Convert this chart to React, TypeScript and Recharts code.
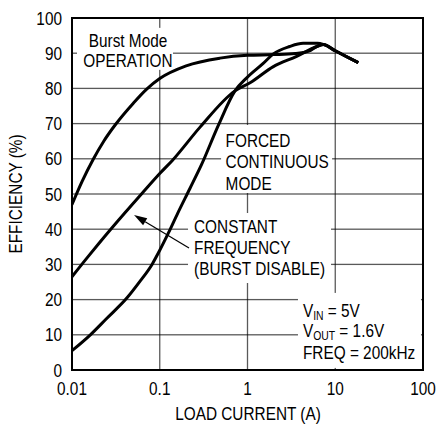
import React from 'react';
import { LineChart, Line, XAxis, YAxis, ReferenceArea } from 'recharts';

// no narrow font installed: Liberation Sans squeezed horizontally
const FONT = "'Liberation Sans', Arial, sans-serif";
const FS = 18.5;
const SX = 0.83;

const xTicks = [0.01, 0.1, 1, 10, 100];
const yTicks = [0, 10, 20, 30, 40, 50, 60, 70, 80, 90, 100];

// Burst Mode operation
const burstX = [0.01, 0.013, 0.0174, 0.023, 0.031, 0.05, 0.071, 0.1, 0.2, 0.486, 1, 2, 3.5, 5, 6.15, 7.3, 10, 13, 18.3];
const burstY = [47, 53.5, 59.8, 65, 69.6, 75.8, 79.8, 82.8, 86.4, 88.6, 89.4, 89.6, 89.9, 90.6, 91.9, 92.5, 90.7, 89.2, 87.3];

// constant frequency (burst disable)
const constX = [0.01, 0.015, 0.02, 0.0286, 0.063, 0.1, 0.14, 0.288, 0.72, 1.07, 1.97, 3.63, 6.15, 7.3, 10, 13, 18.3];
const constY = [26.5, 32, 35.8, 40.4, 50.2, 55.8, 59.6, 69, 79.3, 81.6, 86.2, 89.1, 91.9, 92.5, 90.7, 89.2, 87.3];

// forced continuous mode
const forcedX = [0.01, 0.0162, 0.0245, 0.0424, 0.06, 0.0817, 0.1, 0.126, 0.16, 0.22, 0.3, 0.465, 0.72, 0.98, 1.51, 1.97, 3.02, 4.3, 6.3, 7.3, 10, 13, 18.3];
const forcedY = [5.5, 10, 14.5, 20.5, 25.3, 30, 34, 39, 44.5, 51.5, 58.4, 69.5, 79.3, 83, 87.1, 89.8, 91.9, 92.8, 92.8, 92.5, 90.7, 89.2, 87.3];

const toPoints = (xs: number[], ys: number[]) => xs.map((x, i) => ({ x, y: ys[i] }));

const burst = toPoints(burstX, burstY);
const constant = toPoints(constX, constY);
const forced = toPoints(forcedX, forcedY);

const xMin = xTicks[0], xMax = xTicks[xTicks.length - 1];
const yMin = yTicks[0], yMax = yTicks[yTicks.length - 1];

const PL = 72, PR = 423, PT = 18, PB = 370;
const GW = 1.3;
const GRID_OPACITY = 0.65; // black at 65%: grey on white, stays black over curves

const NText = ({ x, y, anchor = 'start', rotate, children }: any) => (
  <text
    transform={`translate(${x},${y})${rotate ? ` rotate(${rotate})` : ''} scale(${SX},1)`}
    textAnchor={anchor}
    fontFamily={FONT}
    fontSize={FS}
    fill="#000"
  >
    {children}
  </text>
);

const XTick = ({ x, payload }: any) => <NText x={x} y={395} anchor="middle">{String(payload.value)}</NText>;
const YTick = ({ y, payload }: any) => <NText x={62} y={y + 6.6} anchor="end">{String(payload.value)}</NText>;

// grid: each area spans two neighbouring ticks, its label draws the line at the inner tick
const VGridCell = ({ viewBox }: any) => (
  <rect x={viewBox.x + viewBox.width - GW / 2} y={viewBox.y} width={GW} height={viewBox.height} fill="#000" fillOpacity={GRID_OPACITY} />
);
const HGridCell = ({ viewBox }: any) => (
  <rect x={viewBox.x} y={viewBox.y - GW / 2} width={viewBox.width} height={GW} fill="#000" fillOpacity={GRID_OPACITY} />
);
const Frame = ({ viewBox }: any) => (
  <rect x={viewBox.x} y={viewBox.y} width={viewBox.width} height={viewBox.height} fill="none" stroke="#000" strokeWidth={2} />
);

const LinesText = ({ viewBox, lines, w, h, dx, dys, anchor = 'start' }: any) => (
  <g>
    <rect x={viewBox.x} y={viewBox.y} width={w} height={h} fill="#fff" />
    {lines.map((l: string, i: number) => (
      <NText key={l} x={viewBox.x + dx} y={viewBox.y + dys[i]} anchor={anchor}>{l}</NText>
    ))}
  </g>
);

const ConstText = ({ viewBox }: any) => {
  const { x, y } = viewBox;
  const tx = x - 54, ty = y + 2;
  const sx = x + 1, sy = y + 35;
  const ang = Math.atan2(sy - ty, sx - tx);
  const L = 13, W = 4;
  const bx = tx + L * Math.cos(ang), by = ty + L * Math.sin(ang);
  const px = -Math.sin(ang) * W, py = Math.cos(ang) * W;
  return (
    <g>
      <rect x={x} y={y} width={143} height={70} fill="#fff" />
      <line x1={sx} y1={sy} x2={bx} y2={by} stroke="#000" strokeWidth={1.2} />
      <polygon points={`${tx},${ty} ${bx + px},${by + py} ${bx - px},${by - py}`} fill="#000" />
      {['CONSTANT', 'FREQUENCY', '(BURST DISABLE)'].map((l, i) => (
        <NText key={l} x={x + 6} y={y + 20 + i * 21}>{l}</NText>
      ))}
    </g>
  );
};

const CondText = ({ viewBox }: any) => {
  const { x, y } = viewBox;
  return (
    <g>
      <rect x={x} y={y} width={123} height={75} fill="#fff" />
      <NText x={x + 5} y={y + 24}>
        V<tspan dy={3} fontSize={12.5}>IN</tspan><tspan dy={-3}> = 5V</tspan>
      </NText>
      <NText x={x + 5} y={y + 44.5}>
        V<tspan dy={3} fontSize={12.5}>OUT</tspan><tspan dy={-3}> = 1.6V</tspan>
      </NText>
      <NText x={x + 5} y={y + 66}>FREQ = 200kHz</NText>
    </g>
  );
};

const area = { fill: 'none', stroke: 'none', ifOverflow: 'visible' as const };
const curve = { dataKey: 'y', type: 'monotone' as const, stroke: '#000', strokeWidth: 3, dot: false, isAnimationActive: false };

export default function App() {
  return (
    <div style={{ position: 'absolute', left: 0, top: 0, width: 438, height: 424, background: '#fff' }}>
      <LineChart width={438} height={424} margin={{ top: PT, right: 438 - PR, bottom: 0, left: 0 }}>
        <XAxis
          type="number"
          dataKey="x"
          scale="log"
          domain={[xMin, xMax]}
          ticks={xTicks}
          interval={0}
          allowDataOverflow
          height={424 - PB}
          axisLine={false}
          tickLine={false}
          tick={<XTick />}
          label={() => <NText x={248} y={420} anchor="middle">LOAD CURRENT (A)</NText>}
        />
        <YAxis
          type="number"
          dataKey="y"
          domain={[yMin, yMax]}
          ticks={yTicks}
          interval={0}
          width={PL}
          axisLine={false}
          tickLine={false}
          tick={<YTick />}
          label={() => <NText x={22} y={194} rotate={-90} anchor="middle">EFFICIENCY (%)</NText>}
        />
        {xTicks.slice(0, -2).map((t, i) => (
          <ReferenceArea key={'v' + t} x1={t} x2={xTicks[i + 1]} y1={yMin} y2={yMax} {...area}
            label={(p: any) => <VGridCell viewBox={p.viewBox} />} />
        ))}
        {yTicks.slice(0, -2).map((t, i) => (
          <ReferenceArea key={'h' + t} x1={xMin} x2={xMax} y1={t} y2={yTicks[i + 1]} {...area}
            label={(p: any) => <HGridCell viewBox={p.viewBox} />} />
        ))}
        <ReferenceArea x1={xMin} x2={xMax} y1={yMin} y2={yMax} {...area}
          label={(p: any) => <Frame viewBox={p.viewBox} />} />
        <ReferenceArea x1={0.0114} x2={0.141} y1={85.2} y2={97.2} {...area}
          label={(p: any) => <LinesText viewBox={p.viewBox} w={96} h={42} lines={['Burst Mode', 'OPERATION']} dx={51} dys={[19, 39]} anchor="middle" />} />
        <ReferenceArea x1={0.5} x2={9.42} y1={50.3} y2={69.6} {...area}
          label={(p: any) => <LinesText viewBox={p.viewBox} w={111} h={68} lines={['FORCED', 'CONTINUOUS', 'MODE']} dx={4.5} dys={[22, 43, 65]} />} />
        <ReferenceArea x1={0.21} x2={8.71} y1={24.7} y2={44.6} {...area}
          label={(p: any) => <ConstText viewBox={p.viewBox} />} />
        <ReferenceArea x1={3.76} x2={94.9} y1={0} y2={21.9} {...area}
          label={(p: any) => <CondText viewBox={p.viewBox} />} />
        <Line data={burst} {...curve} />
        <Line data={constant} {...curve} />
        <Line data={forced} {...curve} />
      </LineChart>
    </div>
  );
}
